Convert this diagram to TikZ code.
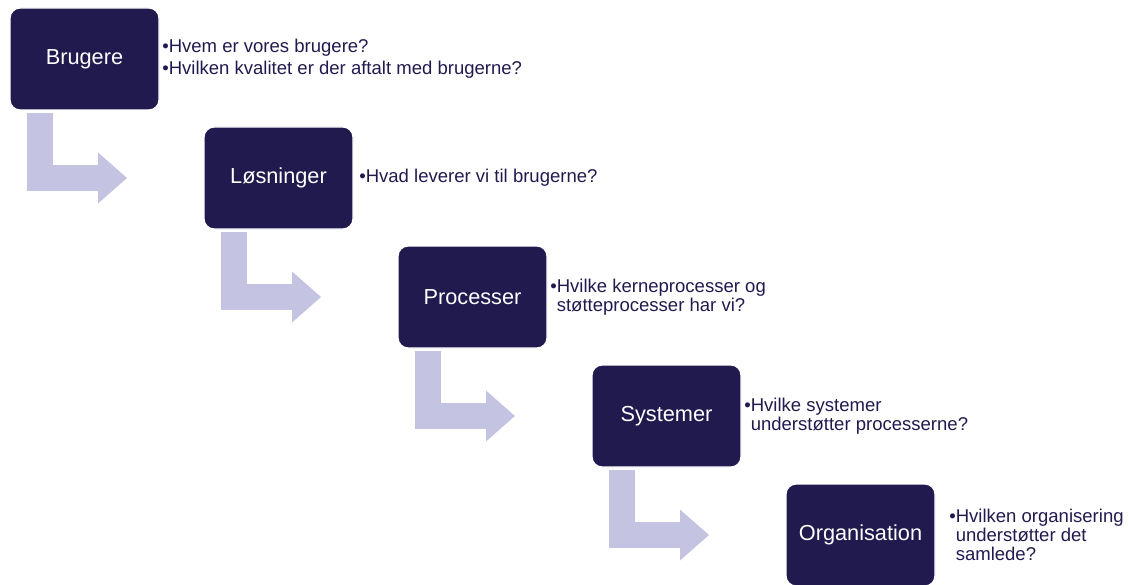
\documentclass[tikz,border=0pt]{standalone}
\usepackage{fontspec}
\setmainfont{Liberation Sans}
\usepackage{xcolor}
\usepackage{tikz}
\usetikzlibrary{positioning}
\usetikzlibrary{arrows.meta}
\definecolor{boxnavy}{RGB}{33,26,79}
\definecolor{flowlilac}{RGB}{197,195,226}
\tikzset{my_diagram/.style={x=0.75pt,y=-0.75pt}}
\tikzset{my_box/.style={rectangle, rounded corners=7.5pt, fill=boxnavy, draw=white, line width=1pt, minimum width=111.75pt, minimum height=76.5pt, inner sep=0pt, outer sep=0pt, text=white, font=\fontsize{16.3}{19}\selectfont}}
\tikzset{my_note/.style={inner sep=0pt, align=left, text=boxnavy, font=\fontsize{13.9}{14.25}\selectfont}}
\tikzset{my_flow/.style={draw=flowlilac, line width=19.5pt, -{Triangle[length=21.75pt,width=38.25pt,line width=0pt]}}}

\begin{document}
\begin{tikzpicture}[my_diagram]
    \useasboundingbox (0,0) rectangle (1129,585);
    %\draw[help lines] (0,0) grid (1129,585);
    \node[my_box] (brugere) at (84.5,59) {Brugere};
    \node[my_box, below right=12.75pt and 33.75pt of brugere] (loesninger) {Løsninger};
    \node[my_box, below right=12.75pt and 33.75pt of loesninger] (processer) {Processer};
    \node[my_box, below right=12.75pt and 33.75pt of processer] (systemer) {Systemer};
    \node[my_box, below right=12.75pt and 33.75pt of systemer] (organisation) {Organisation};

    \node[my_note, right=2.25pt of brugere] (q_brugere)
        {\textbullet Hvem er vores brugere?\\[2.25pt]\textbullet Hvilken kvalitet er der aftalt med brugerne?};
    \node[my_note, right=4.5pt of loesninger] (q_loesninger)
        {\textbullet Hvad leverer vi til brugerne?};
    \node[my_note, right=2.25pt of processer] (q_processer)
        {\textbullet Hvilke kerneprocesser og\\\phantom{\textbullet}støtteprocesser har vi?};
    \node[my_note, right=2.25pt of systemer] (q_systemer)
        {\textbullet Hvilke systemer\\\phantom{\textbullet}understøtter processerne?};
    \node[my_note, right=10.5pt of organisation] (q_organisation)
        {\textbullet Hvilken organisering\\\phantom{\textbullet}understøtter det\\\phantom{\textbullet}samlede?};

    \draw[my_flow] ([xshift=22.5pt,yshift=-2.25pt]brugere.south west) |- ([xshift=-57.75pt]loesninger.west);
    \draw[my_flow] ([xshift=22.5pt,yshift=-2.25pt]loesninger.south west) |- ([xshift=-57.75pt]processer.west);
    \draw[my_flow] ([xshift=22.5pt,yshift=-2.25pt]processer.south west) |- ([xshift=-57.75pt]systemer.west);
    \draw[my_flow] ([xshift=22.5pt,yshift=-2.25pt]systemer.south west) |- ([xshift=-57.75pt]organisation.west);
\end{tikzpicture}
\end{document}
